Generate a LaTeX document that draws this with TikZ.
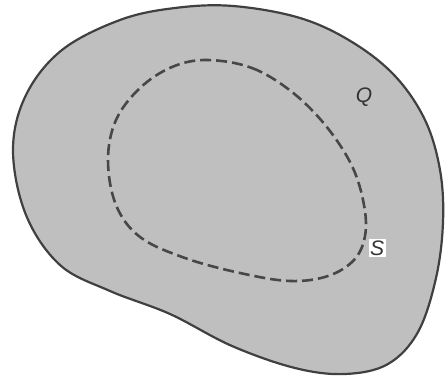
\documentclass[tikz,border=0pt]{standalone}
\usepackage{fontspec}
\setsansfont{Liberation Sans}
\begin{document}
\begin{tikzpicture}[x=1pt,y=-1pt,
  region/.style={draw=black!75,line width=2.2pt,fill=black!25},
  boundary/.style={draw=black!72,line width=2.6pt,dash pattern=on 11pt off 5pt},
  lbl/.style={font=\sffamily\itshape\fontsize{21}{21}\selectfont,inner sep=1.5pt}]
\useasboundingbox (0,0) rectangle (446,379);
\draw[region] plot[smooth cycle,tension=0.6] coordinates {
 (233,6) (300,18) (352,42) (395,76) (425,120) (440,170) (443,222) (436,278)
 (418,332) (388,364) (345,374) (295,368) (232,346) (170,314) (110,291)
 (60,265) (26,215) (13,150) (26,95) (62,50) (120,20) (175,8)};
\draw[boundary] plot[smooth cycle,tension=0.6] coordinates {
 (207,60) (252,68) (292,92) (326,126) (352,166) (364,205) (365,236) (354,260)
 (328,276) (290,281) (240,273) (185,258) (140,237) (116,205) (108,160)
 (116,120) (140,88) (172,67)};
\node[lbl,text=black!80] (Q) at (364,97) {Q};
\node[lbl,fill=white,text=black!80] (S) at (377,248) {S};
\end{tikzpicture}
\end{document}
